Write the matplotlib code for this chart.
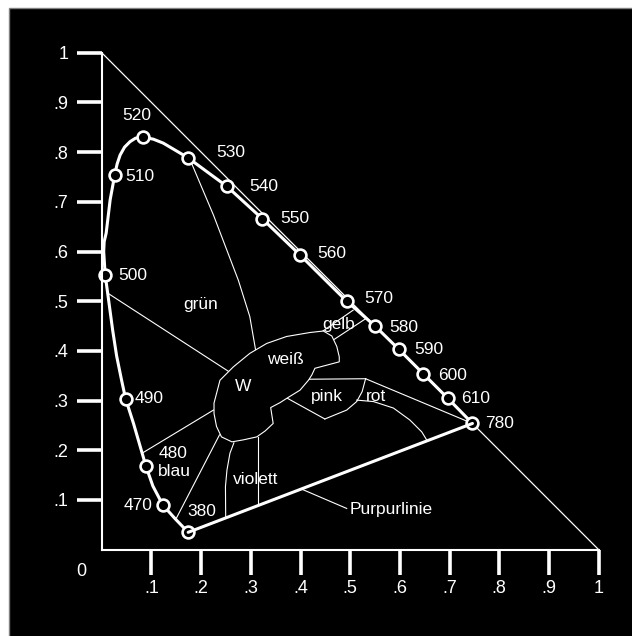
"""Normfarbtafel (CIE x,y) mit Farbbereichen — schwarz/weiß"""

import matplotlib
matplotlib.use("Agg")
import matplotlib.pyplot as plt
from matplotlib.patches import Rectangle, Polygon


plt.rcParams["font.family"] = ["Liberation Sans", "DejaVu Sans"]

# ── Daten ───────────────────────────────────────────────────

# markierte Wellenlängen (nm) und ihre Farbörter
wl = [380, 470, 480, 490, 500, 510, 520, 530, 540,
      550, 560, 570, 580, 590, 600, 610, 780]
wl_x = [0.174, 0.123, 0.089, 0.048, 0.007, 0.026, 0.083, 0.173, 0.252,
        0.323, 0.399, 0.493, 0.550, 0.598, 0.647, 0.696, 0.746]
wl_y = [0.035, 0.090, 0.168, 0.304, 0.553, 0.753, 0.830, 0.789, 0.731,
        0.666, 0.593, 0.500, 0.450, 0.403, 0.354, 0.305, 0.254]

# Spektralkurvenzug 380 → 780 nm
locus_x = [0.174, 0.148, 0.123, 0.103, 0.089, 0.064, 0.048, 0.040, 0.030,
           0.022, 0.013, 0.007, 0.004, 0.005, 0.009, 0.017, 0.026, 0.031,
           0.037, 0.046, 0.057, 0.068, 0.083, 0.104, 0.124, 0.173, 0.252,
           0.323, 0.399, 0.493, 0.550, 0.598, 0.647, 0.696, 0.746]
locus_y = [0.035, 0.062, 0.090, 0.128, 0.168, 0.254, 0.304, 0.341, 0.390,
           0.442, 0.509, 0.553, 0.600, 0.620, 0.637, 0.704, 0.753, 0.776,
           0.794, 0.810, 0.821, 0.828, 0.830, 0.826, 0.818, 0.789, 0.731,
           0.666, 0.593, 0.500, 0.450, 0.403, 0.354, 0.305, 0.254]

# Weißbereich
white_x = [0.226, 0.238, 0.265, 0.298, 0.332, 0.372, 0.419, 0.446, 0.463,
           0.473, 0.478, 0.478, 0.429, 0.423, 0.416, 0.399, 0.373, 0.359,
           0.340, 0.345, 0.329, 0.312, 0.285, 0.262, 0.241, 0.231, 0.226]
white_y = [0.295, 0.341, 0.368, 0.395, 0.415, 0.429, 0.437, 0.440, 0.430,
           0.409, 0.388, 0.378, 0.365, 0.352, 0.341, 0.321, 0.305, 0.296,
           0.286, 0.254, 0.239, 0.227, 0.221, 0.217, 0.227, 0.248, 0.274]

# Grenzlinien der Farbbereiche
borders = {
    "gruen_links": ([0.014, 0.258], [0.515, 0.357]),
    "gruen_rechts": ([0.181, 0.225, 0.275, 0.298, 0.310],
                     [0.777, 0.673, 0.542, 0.469, 0.400]),
    "gelb_oben": ([0.506, 0.445], [0.482, 0.440]),
    "gelb_unten": ([0.530, 0.466], [0.464, 0.422]),
    "pink_oben": ([0.416, 0.531], [0.343, 0.344]),
    "rot_oben": ([0.531, 0.746], [0.344, 0.254]),
    "pink_bogen": ([0.531, 0.524, 0.513, 0.493, 0.449],
                   [0.344, 0.318, 0.298, 0.281, 0.263]),
    "pink_links": ([0.373, 0.449], [0.305, 0.263]),
    "rot_bogen": ([0.513, 0.547, 0.587, 0.620, 0.644, 0.655],
                  [0.301, 0.298, 0.285, 0.261, 0.237, 0.219]),
    "blau_oben": ([0.225, 0.081], [0.281, 0.194]),
    "blau_unten": ([0.237, 0.149], [0.231, 0.061]),
    "violett_links": ([0.266, 0.258, 0.252, 0.249, 0.2495],
                      [0.215, 0.194, 0.160, 0.127, 0.064]),
    "violett_rechts": ([0.315, 0.315], [0.227, 0.089]),
    "purpur_zeiger": ([0.402, 0.493], [0.122, 0.083]),
}

ticks = [0.1, 0.2, 0.3, 0.4, 0.5, 0.6, 0.7, 0.8, 0.9, 1.0]
tick_labels = [".1", ".2", ".3", ".4", ".5", ".6", ".7", ".8", ".9", "1"]


# ── Zeichnen ────────────────────────────────────────────────

W, H = 632, 636
fig = plt.figure(figsize=(W / 100, H / 100), dpi=100, facecolor="white")
# schwarzer Hintergrund, grauer Rand nur links und oben sichtbar
fig.patches.append(Rectangle(
    (9 / W, -0.1), 1.2, (H - 8) / H + 0.1, transform=fig.transFigure,
    facecolor="black", edgecolor="#808080", linewidth=1, zorder=-10,
))

ax = fig.add_axes([101.7 / W, (H - 549.7) / H, 497 / W, 497 / H])
ax.set_facecolor("none")
ax.set_xlim(0, 1)
ax.set_ylim(0, 1)

for side in ("top", "right"):
    ax.spines[side].set_visible(False)
for side in ("left", "bottom"):
    ax.spines[side].set_color("white")
    ax.spines[side].set_linewidth(1.5)
    ax.spines[side].set_zorder(6)

ax.set_xticks(ticks)
ax.set_xticklabels(tick_labels)
ax.set_yticks(ticks)
ax.set_yticklabels(tick_labels)
ax.tick_params(direction="out", length=18, width=2.6, color="white",
               labelcolor="white", labelsize=13)
ax.tick_params(axis="x", pad=4)
ax.tick_params(axis="y", pad=6)
ax.text(-0.041, -0.044, "0", color="white", fontsize=13,
        ha="center", va="center")

# Diagonale x + y = 1
ax.plot([0, 1], [1, 0], color="white", lw=0.9, clip_on=False, zorder=2)

# Grenzlinien
for bx, by in borders.values():
    ax.plot(bx, by, color="white", lw=0.8, zorder=2, clip_on=False)
ax.add_patch(Polygon(list(zip(white_x, white_y)), closed=True,
                     facecolor="black", edgecolor="white", lw=0.8, zorder=2.5))

# Spektralkurve, Purpurlinie, Markierungen
ax.plot(locus_x, locus_y, color="white", lw=2.2, zorder=3,
        solid_joinstyle="round", solid_capstyle="round", clip_on=False)
ax.plot(wl_x, wl_y, linestyle="none", marker="o", markersize=8.5,
        markerfacecolor="black", markeredgecolor="white",
        markeredgewidth=1.9, zorder=4, clip_on=False)
ax.plot([wl_x[0], wl_x[-1]], [wl_y[0], wl_y[-1]], color="white",
        lw=2.2, zorder=5, solid_capstyle="round")

# Wellenlängen-Beschriftung (Versatz in Pixel)
offsets = {
    380: (13.5, 20.6), 470: (-24.5, -0.9), 480: (27, 13.2),
    490: (24, 0), 500: (28, -1), 510: (25.4, -1), 520: (-6.4, 22),
    530: (43, 4.7), 540: (37, 0), 550: (33, 0), 560: (31.4, 1),
    570: (32.3, 3), 580: (28.8, -1), 590: (30, 0), 600: (29.2, -1.7),
    610: (28, 0), 780: (27.6, 0),
}
for w, x, y in zip(wl, wl_x, wl_y):
    ax.annotate(str(w), (x, y), xytext=offsets[w],
                textcoords="offset pixels", color="white", fontsize=12.5,
                ha="center", va="center", zorder=7)

# Bereichsnamen
regions = [
    ("grün", 0.200, 0.494), ("weiß", 0.369, 0.382), ("W", 0.285, 0.328),
    ("gelb", 0.477, 0.453), ("pink", 0.4525, 0.309), ("rot", 0.552, 0.308),
    ("violett", 0.3095, 0.142), ("blau", 0.146, 0.157),
]
for name, x, y in regions:
    ax.text(x, y, name, color="white", fontsize=12.5,
            ha="center", va="center", zorder=7)
ax.text(0.4996, 0.080, "Purpurlinie", color="white", fontsize=12.5,
        ha="left", va="center", zorder=7)

fig.savefig("out.png", dpi=100, facecolor="white")
